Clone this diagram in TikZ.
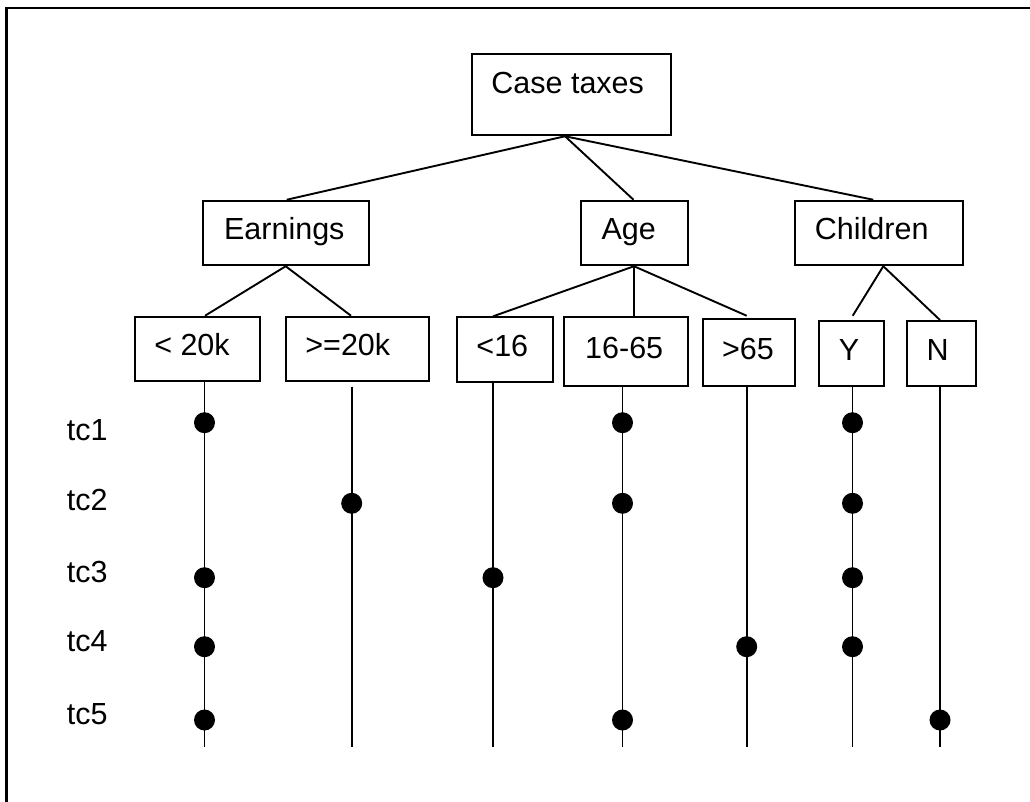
\documentclass[tikz,border=0pt]{standalone}
\usepackage{fontspec}
\setmainfont{Liberation Sans}
\begin{document}
\begin{tikzpicture}[x=1pt,y=-1pt,
  every node/.style={font=\fontsize{30.5}{36}\selectfont},
  box/.style={draw,line width=1.9pt,rectangle,inner sep=0pt,
              text height=22pt,text depth=8pt},
  conn/.style={line width=1.9pt},
  dot/.style={circle,fill=black,inner sep=0pt,minimum size=21pt},
  rowlabel/.style={anchor=base west,inner sep=0pt}]
\useasboundingbox (0,0) rectangle (1030,802);

% outer frame (top and left edges)
\draw[line width=2.7pt] (6.7,802) -- (6.7,8) -- (1030,8);

% root and first level
\node[box,minimum width=198.7pt,minimum height=81pt,text depth=24.4pt]
  (root) at (571.7,94.8) {Case taxes\kern8pt};
\node[box,minimum width=166pt,minimum height=64.6pt] (earn) at (286.3,233) {Earnings\kern4pt};
\node[box,minimum width=106.7pt,minimum height=64.6pt] (age) at (634.7,233) {Age\kern12pt};
\node[box,minimum width=168pt,minimum height=64.6pt] (child) at (878.7,233) {Children\kern14pt};

% second level
\node[box,minimum width=125.6pt,minimum height=64pt] (lt20) at (197.5,348.7) {<\ 20k\kern11pt};
\node[box,minimum width=143pt,minimum height=64pt] (ge20) at (357.8,348.7) {>=20k\kern20pt};
\node[box,minimum width=96pt,minimum height=65pt] (lt16) at (505.3,349.8) {<16\kern6pt};
\node[box,minimum width=123.7pt,minimum height=68.7pt] (mid) at (626.2,351.3) {16-65\kern4pt};
\node[box,minimum width=92.6pt,minimum height=67pt] (gt65) at (749,352.5) {>65\kern2pt};
\node[box,minimum width=65pt,minimum height=65pt] (yes) at (851.5,353.5) {Y\kern5pt};
\node[box,minimum width=68.7pt,minimum height=65pt] (no) at (941.7,353.5) {N\kern8pt};

% tree connectors
\draw[conn] ([xshift=-6.7pt]root.south) -- ([xshift=0.4pt]earn.north);
\draw[conn] ([xshift=-6.7pt]root.south) -- ([xshift=-1.2pt]age.north);
\draw[conn] ([xshift=-6.7pt]root.south) -- ([xshift=-5.4pt]child.north);
\draw[conn] ([xshift=-0.6pt]earn.south) -- ([xshift=7.5pt]lt20.north);
\draw[conn] ([xshift=-0.6pt]earn.south) -- ([xshift=-6.8pt]ge20.north);
\draw[conn] ([xshift=-0.7pt]age.south) -- ([xshift=-12.3pt]lt16.north);
\draw[conn] ([xshift=-0.7pt]age.south) -- ([xshift=7.8pt]mid.north);
\draw[conn] ([xshift=-0.7pt]age.south) -- ([xshift=-2.3pt,yshift=2.3pt]gt65.north);
\draw[conn] ([xshift=4.6pt]child.south) -- ([xshift=1.2pt,yshift=4.3pt]yes.north);
\draw[conn] ([xshift=4.6pt]child.south) -- ([xshift=-1.7pt]no.north);

% lower ends of the value lines
\coordinate (e1) at (204.5,746.7);
\coordinate (e2) at (351.7,746.7);
\coordinate (e3) at (493,746.7);
\coordinate (e4) at (622.5,746.7);
\coordinate (e5) at (746.7,746.7);
\coordinate (e6) at (852.5,746.7);
\coordinate (e7) at (940,746.7);

% value lines
\draw[conn] (lt20.south -| e1) -- (e1);
\draw[conn] ([yshift=-5pt]ge20.south -| e2) -- (e2);
\draw[conn] (lt16.south -| e3) -- (e3);
\draw[conn] (mid.south -| e4) -- (e4);
\draw[conn] (gt65.south -| e5) -- (e5);
\draw[conn] (yes.south -| e6) -- (e6);
\draw[conn] (no.south -| e7) -- (e7);

% test case rows
\coordinate (r1) at (0,422.7);
\coordinate (r2) at (0,503.3);
\coordinate (r3) at (0,577.7);
\coordinate (r4) at (0,646.7);
\coordinate (r5) at (0,720);

\node[rowlabel] (t1) at (66.7,440) {tc1};
\node[rowlabel] (t2) at (66.7,510.7) {tc2};
\node[rowlabel] (t3) at (66.7,582.7) {tc3};
\node[rowlabel] (t4) at (66.7,651.7) {tc4};
\node[rowlabel] (t5) at (66.7,724.3) {tc5};

% tc1
\node[dot] (d11) at (e1 |- r1) {};
\node[dot] (d14) at (e4 |- r1) {};
\node[dot] (d16) at (e6 |- r1) {};
% tc2
\node[dot] (d22) at (e2 |- r2) {};
\node[dot] (d24) at (e4 |- r2) {};
\node[dot] (d26) at (e6 |- r2) {};
% tc3
\node[dot] (d31) at (e1 |- r3) {};
\node[dot] (d33) at (e3 |- r3) {};
\node[dot] (d36) at (e6 |- r3) {};
% tc4
\node[dot] (d41) at (e1 |- r4) {};
\node[dot] (d45) at (e5 |- r4) {};
\node[dot] (d46) at (e6 |- r4) {};
% tc5
\node[dot] (d51) at (e1 |- r5) {};
\node[dot] (d54) at (e4 |- r5) {};
\node[dot] (d57) at (e7 |- r5) {};
\end{tikzpicture}
\end{document}
